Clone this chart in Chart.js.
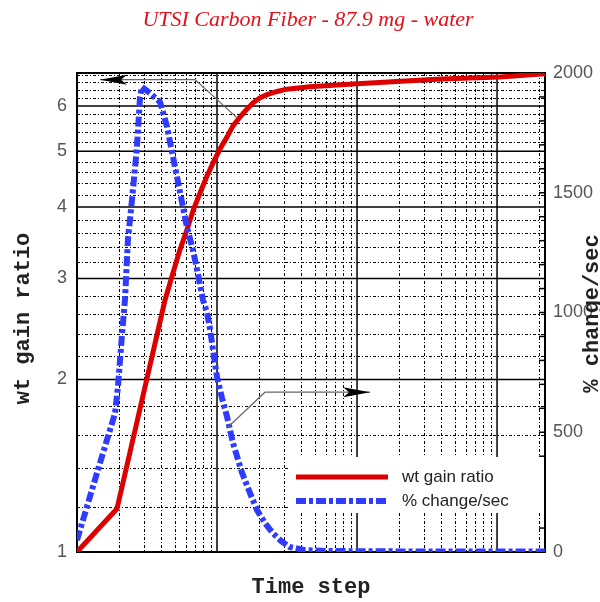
<!DOCTYPE html>
<html>
<head>
<meta charset="utf-8">
<script src="https://cdn.jsdelivr.net/npm/chart.js@4.4.1/dist/chart.umd.min.js"></script>
<style>
body { margin: 0; background: #fff; }
#wrap { width: 600px; height: 602px; position: relative; }
</style>
</head>
<body>
<div id="wrap"><canvas id="chart"></canvas></div>
<script>
// wt gain ratio (left, log axis) against time step (log axis)
var ratioTime  = [1, 1.93, 4.25, 4.85, 5.44, 6.1, 6.74, 7.56, 8.48, 9.36, 10.5, 11.8, 13.0, 14.6, 16.4, 18.1, 20.3, 22.8, 26.8, 31.6, 46, 100, 400, 1050, 2200];
var ratioValue = [1, 1.19, 2.75, 3.07, 3.37, 3.65, 3.94, 4.23, 4.53, 4.77, 5.05, 5.3, 5.54, 5.74, 5.93, 6.08, 6.2, 6.28, 6.36, 6.42, 6.48, 6.56, 6.69, 6.74, 6.83];

// % change/sec (right, linear axis)
var rateTime  = [1, 1.46, 1.87, 1.96, 2.1, 2.2, 2.31, 2.47, 2.68, 2.82, 2.91, 3.32, 3.92, 4.4, 4.77, 5.18, 5.62, 6.1, 6.73, 7.33, 7.94, 8.5, 8.94, 9.36, 10, 10.85, 11.8, 13, 15.1, 17.2, 19.3, 22.0, 25, 28.7, 33, 42.5, 64, 300, 2200];
var rateValue = [50, 372, 580, 689, 914, 1052, 1303, 1470, 1691, 1900, 1942, 1916, 1879, 1775, 1670, 1566, 1461, 1357, 1261, 1157, 1052, 998, 927, 843, 731, 643, 564, 455, 330, 246, 175, 121, 79, 46, 21, 8, 4, 2, 2];

var leftTicks = [1, 2, 3, 4, 5, 6];
var rightTicks = [0, 500, 1000, 1500, 2000];
var seriesNames = ['wt gain ratio', '% change/sec'];

// callout arrows: from a point on a curve, to an elbow, then to the arrow tip
var callouts = [
    { from: [13.9, 5.72, 'y'], elbow: [6.97, 6.67], tip: [1.46, 6.67] },
    { from: [12.0, 522, 'y2'], elbow: [22.0, 1.90], tip: [124, 1.90] }
];

var RED = '#dd0000';
var BLUE = '#2f3cff';

function toPoints(xs, ys) {
    var pts = [];
    for (var i = 0; i < xs.length; i++)
        pts.push({ x: xs[i], y: ys[i] });
    return pts;
}

function seg(ctx, x1, y1, x2, y2) {
    ctx.beginPath();
    ctx.moveTo(x1, y1);
    ctx.lineTo(x2, y2);
    ctx.stroke();
}

var paperPlugin = {
    id: 'paper',
    beforeDatasetsDraw: function (chart) {
        var ctx = chart.ctx, a = chart.chartArea;
        var sx = chart.scales.x, sy = chart.scales.y, s2 = chart.scales.y2;
        ctx.save();

        // minor grid, dash-dot
        ctx.strokeStyle = '#000';
        ctx.lineWidth = 1;
        ctx.setLineDash([3, 2, 1, 2]);
        for (var d = 1; d <= 1000; d *= 10) {
            for (var m = 2; m <= 9; m++) {
                if (d * m >= sx.max) break;
                var px = Math.round(sx.getPixelForValue(d * m)) + 0.5;
                seg(ctx, px, a.top, px, a.bottom);
            }
        }
        for (var k = 12; k < 69; k += 2) {
            if (k % 10 == 0) continue;
            var py = Math.round(sy.getPixelForValue(k / 10)) + 0.5;
            seg(ctx, a.left, py, a.right, py);
        }

        // major grid, solid
        ctx.setLineDash([]);
        ctx.lineWidth = 1.5;
        [10, 100, 1000].forEach(function (v) {
            var px = sx.getPixelForValue(v);
            seg(ctx, px, a.top, px, a.bottom);
        });
        leftTicks.forEach(function (v) {
            if (v == 1) return;
            var py = sy.getPixelForValue(v);
            seg(ctx, a.left, py, a.right, py);
        });

        // right axis minor ticks pointing inwards
        for (var t = 100; t < 2000; t += 100) {
            var ty = s2.getPixelForValue(t);
            seg(ctx, a.right - 6, ty, a.right, ty);
        }

        // legend box (covers grid)
        var lx = a.left + 211, ly = a.bottom - 95;
        ctx.fillStyle = '#fff';
        ctx.fillRect(lx, ly, a.right - lx - 1, 56);

        ctx.lineWidth = 2;
        ctx.strokeRect(a.left, a.top, a.right - a.left, a.bottom - a.top);
        ctx.restore();
    },
    afterDatasetsDraw: function (chart) {
        var ctx = chart.ctx, a = chart.chartArea;
        var sx = chart.scales.x, sy = chart.scales.y;
        ctx.save();

        // legend
        var lx = a.left + 219, ly = a.bottom - 75;
        var ds = chart.data.datasets;
        ctx.font = '17px "Liberation Sans", Arial, sans-serif';
        ctx.textBaseline = 'middle';
        for (var i = 0; i < ds.length; i++) {
            ctx.strokeStyle = ds[i].borderColor;
            ctx.lineWidth = ds[i].borderWidth;
            ctx.setLineDash(ds[i].borderDash || []);
            seg(ctx, lx, ly + i * 24, lx + 92, ly + i * 24);
            ctx.fillStyle = '#222';
            ctx.fillText(ds[i].label, lx + 106, ly + i * 24);
        }
        ctx.setLineDash([]);

        // callout arrows
        callouts.forEach(function (c) {
            var fx = sx.getPixelForValue(c.from[0]);
            var fy = chart.scales[c.from[2]].getPixelForValue(c.from[1]);
            var ex = sx.getPixelForValue(c.elbow[0]), ey = sy.getPixelForValue(c.elbow[1]);
            var tx = sx.getPixelForValue(c.tip[0]), ty = sy.getPixelForValue(c.tip[1]);
            ctx.strokeStyle = '#666';
            ctx.lineWidth = 1.2;
            ctx.beginPath();
            ctx.moveTo(fx, fy);
            ctx.lineTo(ex, ey);
            ctx.lineTo(tx, ty);
            ctx.stroke();
            var dir = tx < ex ? 1 : -1;
            ctx.fillStyle = '#000';
            ctx.beginPath();
            ctx.moveTo(tx, ty);
            ctx.lineTo(tx + dir * 27, ty - 5);
            ctx.lineTo(tx + dir * 21, ty);
            ctx.lineTo(tx + dir * 27, ty + 5);
            ctx.closePath();
            ctx.fill();
        });

        // titles
        ctx.fillStyle = '#e3101a';
        ctx.font = 'italic 22px "Liberation Serif", "Times New Roman", serif';
        ctx.textAlign = 'center';
        ctx.textBaseline = 'alphabetic';
        ctx.fillText('UTSI Carbon Fiber - 87.9 mg - water', (a.left + a.right) / 2 - 3, 26);

        ctx.fillStyle = '#222';
        ctx.font = 'bold 22px "Liberation Mono", "Courier New", monospace';
        ctx.fillText('Time step', (a.left + a.right) / 2, 593);

        ctx.save();
        ctx.translate(29, (a.top + a.bottom) / 2 + 6);
        ctx.rotate(-Math.PI / 2);
        ctx.fillText(seriesNames[0], 0, 0);
        ctx.restore();

        ctx.save();
        ctx.translate(598, (a.top + a.bottom) / 2 + 1);
        ctx.rotate(-Math.PI / 2);
        ctx.fillText(seriesNames[1], 0, 0);
        ctx.restore();

        ctx.restore();
    }
};

Chart.defaults.font.family = '"Liberation Sans", Arial, sans-serif';

var config = {
    type: 'line',
    plugins: [paperPlugin],
    data: {
        datasets: [{
            label: seriesNames[0],
            data: toPoints(ratioTime, ratioValue),
            yAxisID: 'y',
            borderColor: RED,
            borderWidth: 5,
            pointRadius: 0,
            tension: 0,
            borderJoinStyle: 'round',
            fill: false,
            order: 1
        }, {
            label: seriesNames[1],
            data: toPoints(rateTime, rateValue),
            yAxisID: 'y2',
            borderColor: BLUE,
            borderWidth: 6,
            borderDash: [10, 3, 4, 3],
            pointRadius: 0,
            tension: 0,
            borderJoinStyle: 'round',
            fill: false,
            order: 0
        }]
    },
    options: {
        responsive: true,
        maintainAspectRatio: false,
        animation: false,
        layout: { padding: { top: 73, left: 0, right: 0, bottom: 0 } },
        plugins: {
            legend: { display: false },
            tooltip: { enabled: false }
        },
        scales: {
            x: {
                type: 'logarithmic',
                min: 1,
                max: 2200,
                grid: { display: false, drawTicks: false },
                border: { display: false },
                ticks: { display: false },
                afterFit: function (s) { s.height = 50; }
            },
            y: {
                type: 'logarithmic',
                position: 'left',
                min: 1,
                max: 6.85,
                grid: { display: false, drawTicks: false },
                border: { display: false },
                afterBuildTicks: function (s) {
                    s.ticks = leftTicks.map(function (v) { return { value: v }; });
                },
                ticks: {
                    callback: function (v) { return String(v); },
                    padding: 10,
                    color: '#555',
                    font: { size: 18 }
                },
                afterFit: function (s) { s.width = 77; }
            },
            y2: {
                type: 'linear',
                position: 'right',
                min: 0,
                max: 2000,
                grid: { display: false, drawTicks: false },
                border: { display: false },
                afterBuildTicks: function (s) {
                    s.ticks = rightTicks.map(function (v) { return { value: v }; });
                },
                ticks: {
                    callback: function (v) { return String(v); },
                    padding: 8,
                    color: '#555',
                    font: { size: 18 }
                },
                afterFit: function (s) { s.width = 55; }
            }
        }
    }
};

var chart = new Chart(document.getElementById('chart').getContext('2d'), config);
</script>
</body>
</html>
